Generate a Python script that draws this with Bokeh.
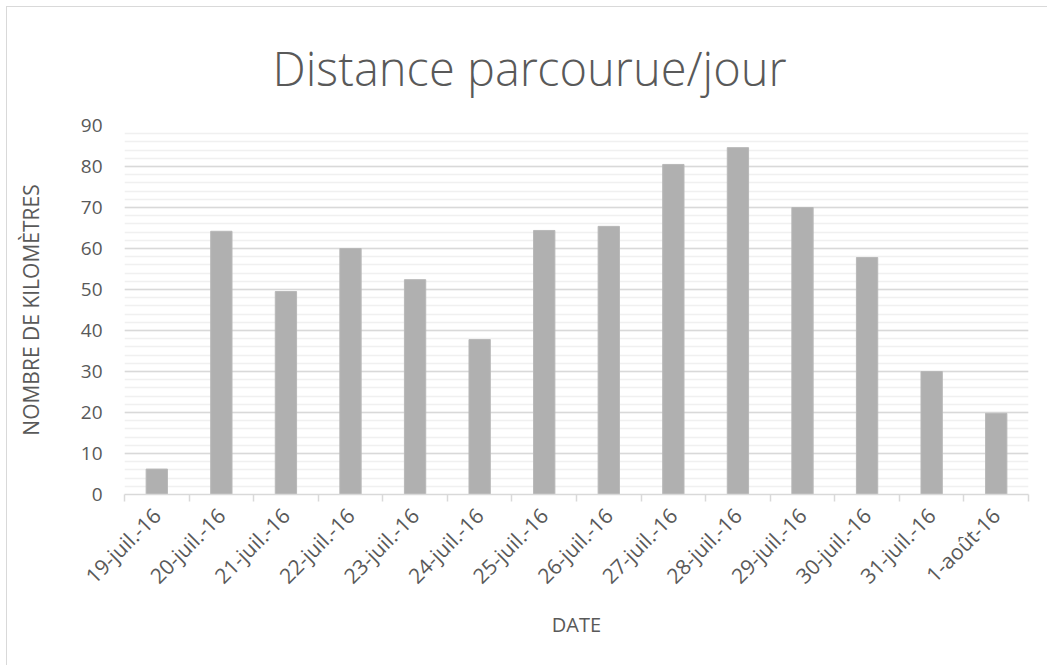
import math
import numpy as np
from bokeh.plotting import figure
from bokeh.models import (Range1d, LinearAxis, FixedTicker, SingleIntervalTicker,
                          CustomJSTickFormatter, Title, Grid)
from bokeh.embed import file_html
from bokeh.resources import INLINE

dates = ["19-juil.-16", "20-juil.-16", "21-juil.-16", "22-juil.-16", "23-juil.-16",
         "24-juil.-16", "25-juil.-16", "26-juil.-16", "27-juil.-16", "28-juil.-16",
         "29-juil.-16", "30-juil.-16", "31-juil.-16", "1-août-16"]
km = [6.2, 64.2, 49.5, 60.0, 52.4, 37.8, 64.4, 65.4, 80.5, 84.6, 70.0, 57.8, 30.0, 19.8]

title_text = "Distance parcourue/jour"
y_label = "NOMBRE DE KILOMÈTRES"
x_label = "DATE"

TXT = "#595959"
FONT = "Open Sans"

n = len(dates)
centers = [i + 0.5 for i in range(n)]
bounds = list(range(n + 1))

p = figure(width=1041, height=659, output_backend="svg", toolbar_location=None,
           x_range=Range1d(0, n), y_range=Range1d(0, 90),
           x_axis_type=None, y_axis_type=None,
           min_border_left=117, min_border_right=20, min_border_top=118,
           min_border_bottom=172)
p.outline_line_color = None
p.background_fill_color = "white"
p.border_fill_color = "white"
p.styles = {"margin-left": "6px", "margin-top": "6px",
            "border-left": "1px solid #d9d9d9", "border-top": "1px solid #d9d9d9"}

t = Title(text=title_text, align="left", offset=148, text_font="Open Sans Light, Open Sans",
          text_font_size="47px", text_font_style="normal", text_color=TXT,
          standoff=51)
p.add_layout(t, "above")

yticker = SingleIntervalTicker(interval=10, num_minor_ticks=5)
grid = Grid(dimension=1, ticker=yticker, grid_line_color="#d9d9d9", grid_line_width=1.5,
            minor_grid_line_color="#f0f0f0", minor_grid_line_width=1.5)
p.add_layout(grid, "center")

p.vbar(x=centers, top=km, width=0.33, fill_color="#b0b0b0", line_color="#b8b8b8",
       line_width=1)

yaxis = LinearAxis(ticker=yticker)
yaxis.axis_line_color = None
yaxis.major_tick_line_color = None
yaxis.minor_tick_line_color = None
yaxis.major_label_text_font = FONT
yaxis.major_label_text_font_size = "19px"
yaxis.major_label_text_color = TXT
yaxis.major_label_standoff = 16
yaxis.axis_label = y_label
yaxis.axis_label_text_font = FONT
yaxis.axis_label_text_font_size = "21px"
yaxis.axis_label_text_font_style = "normal"
yaxis.axis_label_text_color = TXT
yaxis.axis_label_standoff = 33
p.add_layout(yaxis, "left")

xaxis = LinearAxis(ticker=FixedTicker(ticks=centers, minor_ticks=bounds))
xaxis.formatter = CustomJSTickFormatter(args=dict(labels=dates),
                                        code="return labels[Math.round(tick - 0.5)];")
xaxis.axis_line_color = "#d9d9d9"
xaxis.axis_line_width = 1.5
xaxis.major_tick_line_color = None
xaxis.minor_tick_line_color = "#d9d9d9"
xaxis.minor_tick_line_width = 1.5
xaxis.minor_tick_out = 7
xaxis.minor_tick_in = 0
xaxis.major_label_orientation = math.pi / 4
xaxis.major_label_text_font = FONT
xaxis.major_label_text_font_size = "21px"
xaxis.major_label_text_color = TXT
xaxis.major_label_standoff = 10
xaxis.axis_label = x_label
xaxis.axis_label_text_font = FONT
xaxis.axis_label_text_font_size = "20px"
xaxis.axis_label_text_font_style = "normal"
xaxis.axis_label_text_color = TXT
xaxis.axis_label_standoff = 9
p.add_layout(xaxis, "below")

open("out.html", "w").write(file_html(p, INLINE))
